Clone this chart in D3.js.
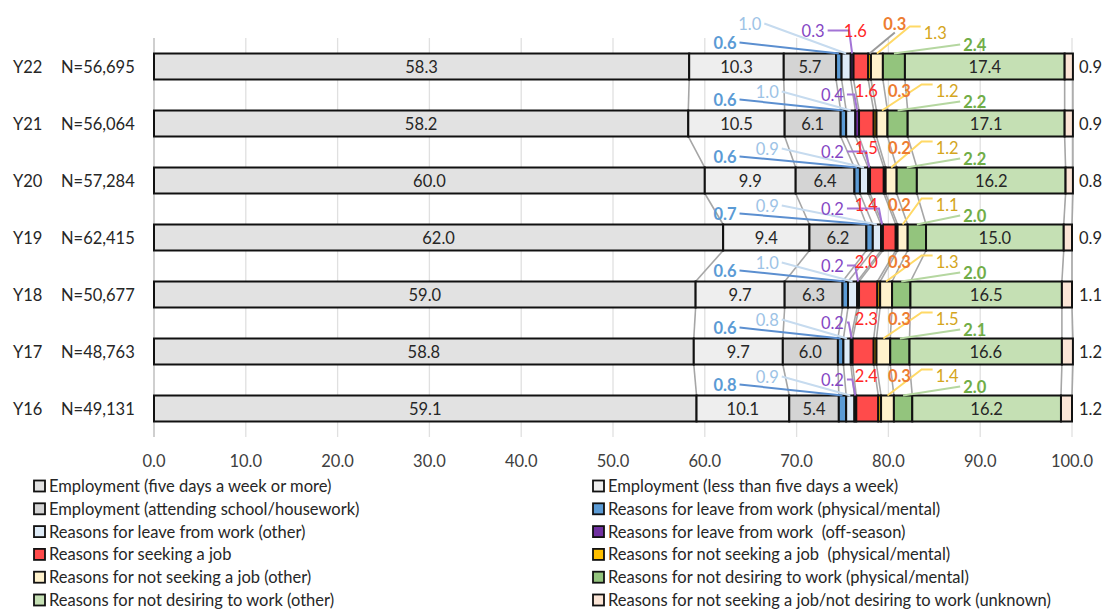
<!DOCTYPE html>
<html>
<head>
<meta charset="utf-8">
<script src="https://cdn.jsdelivr.net/npm/d3@7"></script>
<style>
  body { margin: 0; background: #fff; }
  svg { font-family: Lato, "Noto Sans", sans-serif; }
</style>
</head>
<body>
<div id="chart"></div>
<script>
// rows, top to bottom
const years = ["Y22", "Y21", "Y20", "Y19", "Y18", "Y17", "Y16"];
const sampleSizes = ["N=56,695", "N=56,064", "N=57,284", "N=62,415", "N=50,677", "N=48,763", "N=49,131"];

const seriesNames = [
  "Employment (five days a week or more)",
  "Employment (less than five days a week)",
  "Employment (attending school/housework)",
  "Reasons for leave from work (physical/mental)",
  "Reasons for leave from work (other)",
  "Reasons for leave from work  (off-season)",
  "Reasons for seeking a job",
  "Reasons for not seeking a job  (physical/mental)",
  "Reasons for not seeking a job (other)",
  "Reasons for not desiring to work (physical/mental)",
  "Reasons for not desiring to work (other)",
  "Reasons for not seeking a job/not desiring to work (unknown)"
];

const empFive        = [58.3, 58.2, 60.0, 62.0, 59.0, 58.8, 59.1];
const empLess        = [10.3, 10.5, 9.9, 9.4, 9.7, 9.7, 10.1];
const empSchool      = [5.7, 6.1, 6.4, 6.2, 6.3, 6.0, 5.4];
const leavePhys      = [0.6, 0.6, 0.6, 0.7, 0.6, 0.6, 0.8];
const leaveOther     = [1.0, 1.0, 0.9, 0.9, 1.0, 0.8, 0.9];
const leaveSeason    = [0.3, 0.4, 0.2, 0.2, 0.2, 0.2, 0.2];
const seeking        = [1.6, 1.6, 1.5, 1.4, 2.0, 2.3, 2.4];
const notSeekPhys    = [0.3, 0.3, 0.2, 0.2, 0.3, 0.3, 0.3];
const notSeekOther   = [1.3, 1.2, 1.2, 1.1, 1.3, 1.5, 1.4];
const notDesirePhys  = [2.4, 2.2, 2.2, 2.0, 2.0, 2.1, 2.0];
const notDesireOther = [17.4, 17.1, 16.2, 15.0, 16.5, 16.6, 16.2];
const unknown        = [0.9, 0.9, 0.8, 0.9, 1.1, 1.2, 1.2];

const seriesValues = [empFive, empLess, empSchool, leavePhys, leaveOther, leaveSeason,
  seeking, notSeekPhys, notSeekOther, notDesirePhys, notDesireOther, unknown];

const xTicks = [0, 10, 20, 30, 40, 50, 60, 70, 80, 90, 100];

const colors = ["#e2e2e2", "#eeeeee", "#d4d4d4", "#5b9bd5", "#deebf7", "#7030a0",
  "#ff4b4b", "#ffc000", "#fff2cc", "#93c47d", "#c5e0b4", "#fbe5d6"];

// callout placement for the thin segments (label x in axis units, dy in px above bar top)
const callouts = {
  3:  {at: 62.2, dy: -11, color: "#5b9bd5", bold: true,  line: "#5b8fd0", shape: "straight-right"},
  4:  {at: 66.8, dy: -19, color: "#9dc3e6", bold: false, line: "#c6dbef", shape: "straight-right"},
  5:  {at: 73.9, dy: -16, color: "#8547c4", bold: false, line: "#a374d6", shape: "bracket"},
  6:  {at: 77.6, dy: -20, color: "#ff2626", bold: false, line: null},
  7:  {at: 81.2, dy: -20, color: "#ed7d31", bold: true,  line: null},
  8:  {at: 86.4, dy: -20, color: "#d4a520", bold: false, line: "#ffd966", shape: "elbow-left"},
  9:  {at: 89.4, dy: -9,  color: "#70ad47", bold: true,  line: "#b5d7a0", shape: "straight-left"}
};
// the top row has its callouts spread out further
const topRowCallouts = {4: [64.9, -30], 5: [71.8, -23], 6: [76.4, -23], 7: [80.7, -30], 8: [85.1, -21]};
const insideLabels = [0, 1, 2, 10];

const width = 1104, height = 610;
const fs = "16.5px";

const svg = d3.select("#chart")
  .append("svg")
  .attr("width", width)
  .attr("height", height);

const x = d3.scaleLinear().domain([0, 100]).range([154, 1072]);
const y = d3.scaleBand().domain(years).range([38, 437]).paddingInner(0.544).paddingOuter(0.272);

// table for d3.stack
const table = years.map(function(yr, i) {
  let row = {year: yr};
  seriesValues.forEach(function(arr, k) { row["s" + k] = arr[i]; });
  return row;
});
const keys = seriesValues.map(function(d, k) { return "s" + k; });
const stacked = d3.stack().keys(keys)(table);

// gridlines
svg.append("g")
  .selectAll("line")
  .data(xTicks.slice(1))
  .join("line")
  .attr("x1", function(d) { return x(d); })
  .attr("x2", function(d) { return x(d); })
  .attr("y1", 38)
  .attr("y2", 437)
  .attr("stroke", "#e0e0e0")
  .attr("stroke-width", 1.3);

svg.append("line")
  .attr("x1", x(0)).attr("x2", x(0))
  .attr("y1", 38).attr("y2", 437)
  .attr("stroke", "#bfbfbf")
  .attr("stroke-width", 1.5);

// x tick labels
svg.append("g")
  .selectAll("text")
  .data(xTicks)
  .join("text")
  .attr("x", function(d) { return x(d); })
  .attr("y", 461)
  .attr("text-anchor", "middle")
  .attr("dominant-baseline", "central")
  .style("font-size", fs)
  .style("fill", "#404040")
  .text(function(d) { return d.toFixed(1); });

// series lines between bars
const seriesLines = svg.append("g");
stacked.forEach(function(layer) {
  for (let i = 0; i < years.length - 1; i++) {
    seriesLines.append("line")
      .attr("x1", x(layer[i][1]))
      .attr("y1", y(years[i]) + y.bandwidth())
      .attr("x2", x(layer[i + 1][1]))
      .attr("y2", y(years[i + 1]))
      .attr("stroke", "#a6a6a6")
      .attr("stroke-width", 1.6);
  }
});

// bars
svg.append("g")
  .selectAll("g")
  .data(stacked)
  .join("g")
  .attr("fill", function(d, k) { return colors[k]; })
  .selectAll("rect")
  .data(function(d) { return d; })
  .join("rect")
  .attr("x", function(d) { return x(d[0]); })
  .attr("y", function(d) { return y(d.data.year); })
  .attr("width", function(d) { return x(d[1]) - x(d[0]); })
  .attr("height", y.bandwidth())
  .attr("stroke", "#111")
  .attr("stroke-width", 2);

// inside labels
const labelG = svg.append("g");
insideLabels.forEach(function(k) {
  labelG.selectAll(null)
    .data(stacked[k])
    .join("text")
    .attr("x", function(d) { return x((d[0] + d[1]) / 2); })
    .attr("y", function(d) { return y(d.data.year) + y.bandwidth() / 2; })
    .attr("text-anchor", "middle")
    .attr("dominant-baseline", "central")
    .style("font-size", fs)
    .style("fill", "#262626")
    .text(function(d) { return (d[1] - d[0]).toFixed(1); });
});

// outside right labels for unknown
labelG.selectAll(null)
  .data(stacked[11])
  .join("text")
  .attr("x", x(100) + 7)
  .attr("y", function(d) { return y(d.data.year) + y.bandwidth() / 2; })
  .attr("dominant-baseline", "central")
  .style("font-size", fs)
  .style("fill", "#262626")
  .text(function(d) { return (d[1] - d[0]).toFixed(1); });

// callouts with leader lines
const calloutG = svg.append("g");
Object.keys(callouts).forEach(function(key) {
  const k = +key;
  const c = callouts[k];
  stacked[k].forEach(function(d, i) {
    const top = y(d.data.year);
    let at = c.at, dy = c.dy;
    if (i === 0 && topRowCallouts[k]) { at = topRowCallouts[k][0]; dy = topRowCallouts[k][1]; }
    const ly = top + dy;
    const lx = x(at);
    const segX = x((d[0] + d[1]) / 2);
    const t = calloutG.append("text")
      .attr("x", lx)
      .attr("y", ly)
      .attr("text-anchor", "middle")
      .attr("dominant-baseline", "central")
      .style("font-size", fs)
      .style("font-weight", c.bold ? "bold" : "normal")
      .style("fill", c.color)
      .text((d[1] - d[0]).toFixed(1));
    let line = c.line, shape = c.shape;
    if (k === 7 && i === 0) { line = "#9a9a9a"; shape = "down"; }
    if (!line) return;
    const w = t.node().getComputedTextLength();
    let pts;
    if (shape === "straight-right") {
      pts = [[lx + w / 2 + 3, ly], [segX, top]];
    } else if (shape === "bracket") {
      pts = [[lx + w / 2 + 3, ly], [segX - 3, ly], [segX, top]];
    } else if (shape === "elbow-left") {
      pts = [[lx - w / 2 - 3, ly - 6], [lx - w / 2 - 14, ly - 6], [segX, top]];
    } else if (shape === "down") {
      pts = [[lx, ly + 9], [segX, top]];
    } else {
      pts = [[lx - w / 2 - 3, ly], [segX, top]];
    }
    calloutG.insert("path", "text")
      .attr("d", d3.line()(pts))
      .attr("fill", "none")
      .attr("stroke", line)
      .attr("stroke-width", 2);
  });
});

// row labels
const rowG = svg.append("g");
rowG.selectAll(null)
  .data(years)
  .join("text")
  .attr("x", 13)
  .attr("y", function(d) { return y(d) + y.bandwidth() / 2; })
  .attr("dominant-baseline", "central")
  .style("font-size", fs)
  .style("fill", "#262626")
  .text(function(d) { return d; });
rowG.selectAll(null)
  .data(sampleSizes)
  .join("text")
  .attr("x", 61)
  .attr("y", function(d, i) { return y(years[i]) + y.bandwidth() / 2; })
  .attr("dominant-baseline", "central")
  .style("font-size", fs)
  .style("fill", "#262626")
  .text(function(d) { return d; });

// legend
const legend = svg.append("g")
  .selectAll("g")
  .data(seriesNames)
  .join("g")
  .attr("transform", function(d, i) {
    const col = i % 2, row = Math.floor(i / 2);
    return `translate(${col === 0 ? 34 : 593}, ${486 + row * 22.8})`;
  });
legend.append("rect")
  .attr("x", 0)
  .attr("y", -5.5)
  .attr("width", 11)
  .attr("height", 11)
  .attr("fill", function(d, i) { return colors[i]; })
  .attr("stroke", "#111")
  .attr("stroke-width", 1.8);
legend.append("text")
  .attr("x", 15)
  .attr("y", 0)
  .attr("dominant-baseline", "central")
  .style("font-size", fs)
  .style("fill", "#262626")
  .style("white-space", "pre")
  .text(function(d) { return d; });
</script>
</body>
</html>
